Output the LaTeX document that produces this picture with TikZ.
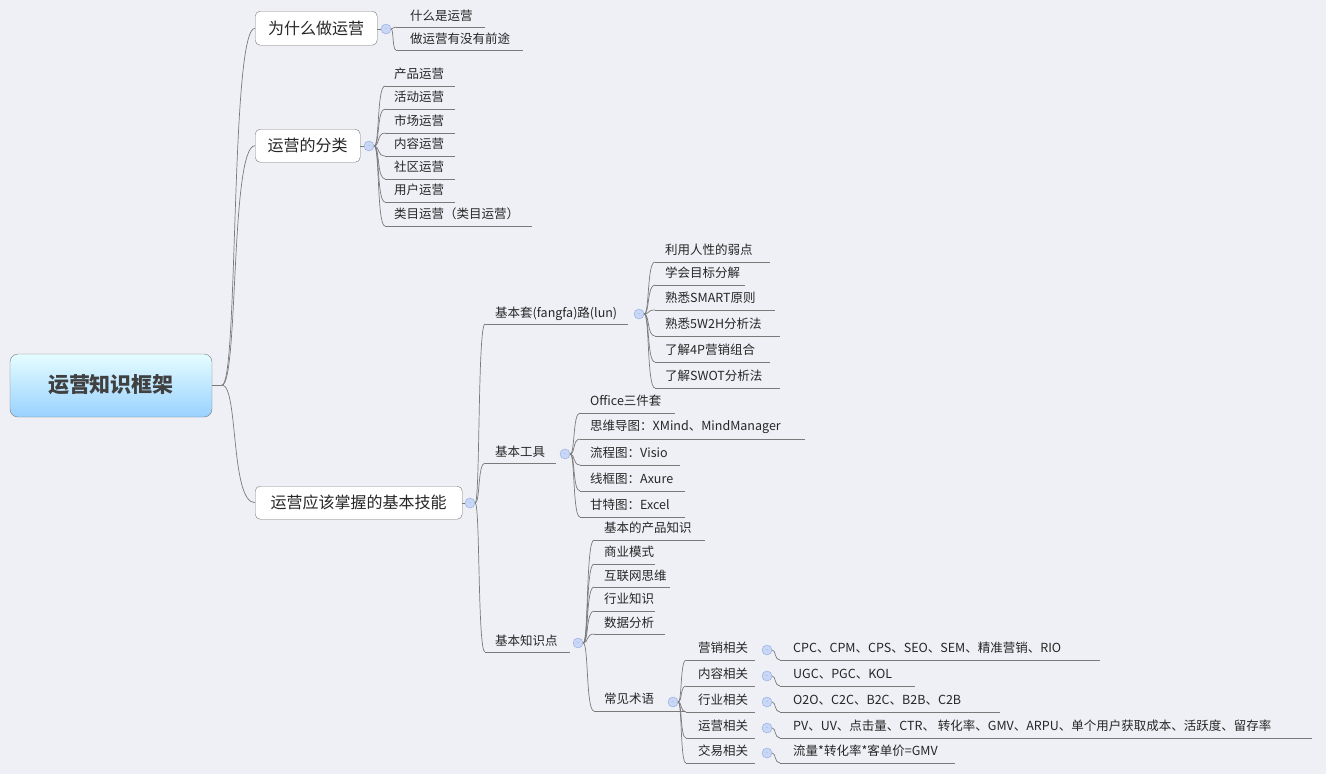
\documentclass[tikz,border=0pt]{standalone}
\usepackage{fontspec}
\setmainfont{Noto Sans CJK SC}
\usetikzlibrary{calc}
\definecolor{bg}{HTML}{EFF0F6}
\definecolor{ln}{HTML}{7A7A7A}
\definecolor{cfill}{HTML}{C8D7F5}
\definecolor{cdraw}{HTML}{8FA8DE}
\tikzset{
 leaftxt/.style={anchor=west,inner sep=0pt,font=\fontsize{12.5}{14}\selectfont,text=black!85},
 mainbox/.style={draw=ln,fill=white,rounded corners=5pt,anchor=north west,inner sep=0pt,font=\fontsize{16}{18}\selectfont,text=black!85},
 coll/.style={circle,draw=cdraw,fill=cfill,minimum size=10pt,inner sep=0pt},
 conn/.style={draw=ln,line width=0.7pt},
}
\newcommand{\lf}[7]{%
 \node[leaftxt] (#1) at (#2,#3) {#7};
 \coordinate (#1-s) at (#4,#6);
 \coordinate (#1-e) at (#5,#6);
 \draw[conn] (#1-s) -- (#1-e);}
\newcommand{\cn}[2]{%
 \draw[conn] let \p1=(#1), \p2=(#2) in (\p1) .. controls ({\x1+0.5*(\x2-\x1)},\y1) and ({\x1+0.25*(\x2-\x1)},\y2) .. (\p2);}
\begin{document}
\begin{tikzpicture}[x=1pt,y=-1pt]
\fill[bg] (0,0) rectangle (1326,774);
\useasboundingbox (0,0) rectangle (1326,774);
% root
\shade[top color=blue!8!cyan!10,bottom color=blue!45!cyan!40,draw=ln,rounded corners=8pt] (10,354) rectangle (212,417);
\node[font=\fontsize{21}{24}\selectfont\bfseries,text=black!75] (root) at (111,385) {运营知识框架};
\coordinate (rt) at (222,385);
\draw[conn] (212,385) -- (rt);
% main boxes
\node[mainbox,minimum width=122pt,minimum height=34pt] (m1) at (255,11) {};
\node[font=\fontsize{16}{18}\selectfont,text=black!85] at (m1.center) {为什么做运营};
\node[mainbox,minimum width=105pt,minimum height=33pt] (m2) at (255,129) {};
\node[font=\fontsize{16}{18}\selectfont,text=black!85] at (m2.center) {运营的分类};
\node[mainbox,minimum width=207pt,minimum height=33pt] (m3) at (255,486) {};
\node[font=\fontsize{16}{18}\selectfont,text=black!85] at (m3.center) {运营应该掌握的基本技能};
\cn{rt}{m1.west}\cn{rt}{m2.west}\cn{rt}{m3.west}
% collapse circles
\node[coll] (c1) at (386,29) {};
\node[coll] (c2) at (369,146) {};
\node[coll] (c3) at (470,503) {};
\draw[conn] (m1.east|-c1) -- (c1.west);
\draw[conn] (m2.east|-c2) -- (c2.west);
\draw[conn] (m3.east|-c3) -- (c3.west);
\foreach \c in {c1,c2,c3} \node[font=\tiny,text=cdraw] at (\c) {−};
% branch 1
\lf{a1}{410}{16}{396}{485}{27}{什么是运营}
\lf{a2}{410}{39}{396}{523}{50}{做运营有没有前途}
\cn{c1.east}{a1-s}\cn{c1.east}{a2-s}
% branch 2
\lf{b1}{394}{74}{385}{455}{86}{产品运营}
\lf{b2}{394}{97}{385}{455}{109}{活动运营}
\lf{b3}{394}{121}{385}{455}{133}{市场运营}
\lf{b4}{394}{144}{385}{455}{156}{内容运营}
\lf{b5}{394}{167}{385}{455}{179}{社区运营}
\lf{b6}{394}{190}{385}{455}{202}{用户运营}
\lf{b7}{394}{214}{385}{532}{226}{类目运营（类目运营）}
\foreach \b in {b1,b2,b3,b4,b5,b6,b7} {\cn{c2.east}{\b-s}}
% branch 3 children
\lf{k1}{495}{314}{485}{628}{324}{基本套(fangfa)路(lun)}
\lf{k2}{495}{452}{485}{556}{463}{基本工具}
\lf{k3}{495}{641}{485}{570}{652}{基本知识点}
\foreach \b in {k1,k2,k3} {\cn{c3.east}{\b-s}}
\node[coll] (ck1) at (639,314) {};
\node[coll] (ck2) at (565,454) {};
\node[coll] (ck3) at (578,643) {};
\foreach \c in {ck1,ck2,ck3} \node[font=\tiny,text=cdraw] at (\c) {−};
% fangfa
\lf{f1}{665}{250}{655}{770}{262}{利用人性的弱点}
\lf{f2}{665}{273}{655}{745}{285}{学会目标分解}
\lf{f3}{665}{298}{655}{775}{310}{熟悉SMART原则}
\lf{f4}{665}{324}{655}{780}{336}{熟悉5W2H分析法}
\lf{f5}{665}{350}{655}{770}{362}{了解4P营销组合}
\lf{f6}{665}{376}{655}{780}{388}{了解SWOT分析法}
\foreach \b in {f1,f2,f3,f4,f5,f6} {\cn{ck1.east}{\b-s}}
% tools
\lf{t1}{590}{401}{580}{675}{413}{Office三件套}
\lf{t2}{590}{427}{580}{805}{439}{思维导图：XMind、MindManager}
\lf{t3}{590}{453}{580}{680}{465}{流程图：Visio}
\lf{t4}{590}{479}{580}{685}{491}{线框图：Axure}
\lf{t5}{590}{505}{580}{685}{517}{甘特图：Excel}
\foreach \b in {t1,t2,t3,t4,t5} {\cn{ck2.east}{\b-s}}
% knowledge
\lf{n1}{604}{528}{594}{705}{540}{基本的产品知识}
\lf{n2}{604}{552}{594}{655}{564}{商业模式}
\lf{n3}{604}{576}{594}{670}{587}{互联网思维}
\lf{n4}{604}{599}{594}{655}{611}{行业知识}
\lf{n5}{604}{623}{594}{665}{634}{数据分析}
\lf{n6}{604}{699}{594}{685}{711}{常见术语}
\foreach \b in {n1,n2,n3,n4,n5,n6} {\cn{ck3.east}{\b-s}}
\node[coll] (cn6) at (673,702) {};
\node[font=\tiny,text=cdraw] at (cn6) {−};
% terms
\lf{g1}{698}{648}{686}{755}{660}{营销相关}
\lf{g2}{698}{674}{686}{755}{686}{内容相关}
\lf{g3}{698}{700}{686}{755}{712}{行业相关}
\lf{g4}{698}{726}{686}{755}{738}{运营相关}
\lf{g5}{698}{751}{686}{755}{763}{交易相关}
\foreach \b in {g1,g2,g3,g4,g5} {\cn{cn6.east}{\b-s}}
\foreach \b/\y in {g1/650,g2/676,g3/702,g4/728,g5/753} {
 \node[coll] (cc\b) at (767,\y) {};
 \node[font=\tiny,text=cdraw] at (cc\b) {−};}
\lf{h1}{793}{648}{780}{1100}{660}{CPC、CPM、CPS、SEO、SEM、精准营销、RIO}
\lf{h2}{793}{674}{780}{915}{686}{UGC、PGC、KOL}
\lf{h3}{793}{700}{780}{1000}{712}{O2O、C2C、B2C、B2B、C2B}
\lf{h4}{793}{726}{780}{1312}{738}{PV、UV、点击量、CTR、 转化率、GMV、ARPU、单个用户获取成本、活跃度、留存率}
\lf{h5}{793}{751}{780}{955}{763}{流量*转化率*客单价=GMV}
\foreach \a/\b in {g1/h1,g2/h2,g3/h3,g4/h4,g5/h5} {\cn{cc\a.east}{\b-s}}
\end{tikzpicture}
\end{document}
